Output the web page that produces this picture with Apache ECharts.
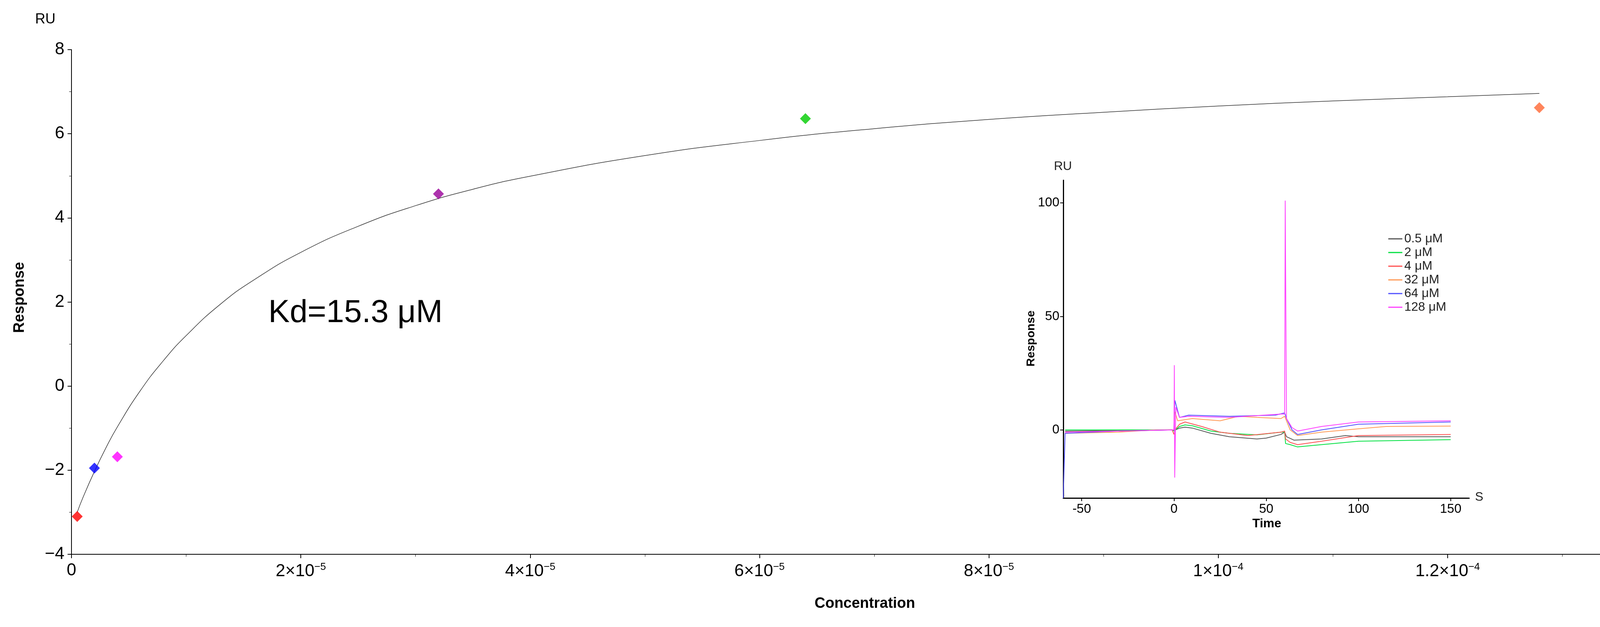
<!DOCTYPE html>
<html>
<head>
<meta charset="utf-8" />
<title>Kd fit</title>
<script src="https://cdn.jsdelivr.net/npm/echarts@6/dist/echarts.min.js"></script>
<style>
  html, body { margin: 0; padding: 0; background: #fff; }
  #chart { width: 4424px; height: 1604px; }
</style>
</head>
<body>
<div id="chart"></div>
<script>
// main plot: concentration (M) vs response (RU)
var pointConc = [0.5e-6, 2e-6, 4e-6, 32e-6, 64e-6, 128e-6];
var pointResp = [-3.1, -1.95, -1.68, 4.57, 6.36, 6.62];
var pointColors = ['#ff0000', '#0000ff', '#ff00ff', '#990099', '#00cc00', '#ff6633'];

// fitted curve (uM, RU)
var fitConcUM = [0.5, 1, 2, 3, 4, 6, 8, 10, 13, 16, 20, 25, 30, 35, 40, 50, 60, 70, 80, 90, 100, 110, 120, 128];
var fitResp = [-3.0, -2.65, -2.03, -1.47, -0.97, -0.11, 0.6, 1.2, 1.95, 2.54, 3.18, 3.8, 4.29, 4.68, 4.99, 5.48, 5.84, 6.12, 6.34, 6.51, 6.66, 6.78, 6.88, 6.96];

var xTickLabels = ['0', '2×10{s|−5}', '4×10{s|−5}', '6×10{s|−5}', '8×10{s|−5}', '1×10{s|−4}', '1.2×10{s|−4}', '1.4×10{s|−4}'];

// inset sensorgram: time (s) and response per concentration
var insetNames = ['0.5 μM', '2 μM', '4 μM', '32 μM', '64 μM', '128 μM'];
var insetColors = ['#555555', '#00e040', '#ff5050', '#ff9955', '#5050ff', '#ff40ff'];
var t05 = [-59, -30, -1, 0, 3, 6, 10, 20, 30, 45, 50, 58, 60, 61, 65, 80, 93, 100, 120, 150];
var y05 = [-0.5, -0.3, 0, -0.3, 0.8, 1.2, 0.8, -1.5, -3, -4, -3.6, -2, -1, -3, -4.5, -4, -2.5, -3, -3, -3];
var t2 = [-59, -30, -1, 0, 3, 6, 10, 20, 30, 45, 58, 60, 60.5, 63, 67, 80, 100, 150];
var y2 = [0, 0, 0, -0.5, 1.5, 2.2, 1.8, -0.5, -1.5, -2.2, -1, -1, -6, -6.5, -7.5, -6.5, -5, -4.3];
var t4 = [-59, -30, -1, 0, 0.5, 3, 6, 15, 25, 40, 58, 60, 60.5, 63, 67, 80, 100, 150];
var y4 = [-1, -0.5, 0, -2, 0, 2.5, 3.5, 1.5, -1, -2.5, -1, -0.5, -4, -5.5, -6.5, -5, -2.5, -2];
var t32 = [-59, -30, -10, 0, 0.5, 2, 10, 25, 35, 45, 58, 60, 63, 67, 80, 100, 115, 150];
var y32 = [-1.5, -1, 0, 0, 8, 4, 5, 4, 6, 5.5, 5, 6, 0, -2.5, -1, 0.5, 1.5, 1.7];
var t64 = [-60, -59, -30, 0, 0.5, 3, 8, 30, 55, 60, 61, 64, 67, 80, 100, 150];
var y64 = [-30, -1.5, -0.5, 0, 13, 5.5, 6.5, 6, 6.5, 7.5, 5, 0, -2, 0, 2.5, 3.5];
var t128 = [-59, -30, -1, 0, 0.2, 0.4, 1, 3, 8, 30, 58, 60, 60.3, 61, 64, 67, 80, 100, 150];
var y128 = [-1, -0.5, 0, 0, 28.5, -21, 10, 5.5, 6, 5.5, 7, 7, 101, 5, 1, -0.5, 1.5, 3.5, 4];
var insetT = [t05, t2, t4, t32, t64, t128];
var insetY = [y05, y2, y4, y32, y64, y128];

function zip(a, b) {
  return a.map(function (v, i) { return [v, b[i]]; });
}

var chart = echarts.init(document.getElementById('chart'));

var series = [];
series.push({
  type: 'line', xAxisIndex: 0, yAxisIndex: 0, smooth: true, symbol: 'none',
  lineStyle: { color: '#333', width: 1.5 },
  data: fitConcUM.map(function (c, i) { return [c * 1e-6, fitResp[i]]; }),
  z: 2
});
series.push({
  type: 'scatter', xAxisIndex: 0, yAxisIndex: 0, symbol: 'diamond', symbolSize: 28,
  data: pointConc.map(function (c, i) {
    return { value: [c, pointResp[i]], itemStyle: { color: pointColors[i] } };
  }),
  z: 3
});
for (var k = 0; k < insetNames.length; k++) {
  series.push({
    name: insetNames[k], type: 'line', xAxisIndex: 1, yAxisIndex: 1,
    symbol: 'none', lineStyle: { color: insetColors[k], width: 2 },
    itemStyle: { color: insetColors[k] },
    data: zip(insetT[k], insetY[k])
  });
}

var option = {
  animation: false,
  backgroundColor: '#fff',
  legend: {
    data: insetNames, orient: 'vertical', left: 3549, top: 590, itemGap: 3,
    itemWidth: 36, itemHeight: 3, icon: 'rect',
    textStyle: { fontSize: 32, color: '#222', fontFamily: 'Liberation Sans, Arial' }
  },
  grid: [
    { left: 183, top: 127, width: 4110, height: 1291 },
    { left: 2722, top: 461, width: 1039, height: 813 }
  ],
  xAxis: [
    {
      gridIndex: 0, type: 'value', min: 0, max: 1.4e-4, interval: 2e-5,
      splitLine: { show: false },
      axisLine: { onZero: false, lineStyle: { color: '#000', width: 2 } },
      axisTick: { length: 10, lineStyle: { color: '#000', width: 2 } },
      minorTick: { show: true, splitNumber: 2, length: 6, lineStyle: { color: '#000' } },
      axisLabel: {
        fontSize: 44, margin: 20, color: '#000', fontFamily: 'Liberation Sans, Arial',
        formatter: function (v) { return xTickLabels[Math.round(v / 2e-5)]; },
        rich: { s: { fontSize: 26, verticalAlign: 'top', padding: [0, 0, 22, 0] } }
      }
    },
    {
      gridIndex: 1, type: 'value', min: -60, max: 160,
      splitLine: { show: false },
      axisLine: { onZero: false, lineStyle: { color: '#000', width: 3 } },
      axisTick: { length: 8, customValues: [-50, 0, 50, 100, 150], lineStyle: { color: '#000', width: 2 } },
      axisLabel: {
        fontSize: 33, margin: 12, color: '#000', fontFamily: 'Liberation Sans, Arial',
        customValues: [-50, 0, 50, 100, 150]
      }
    }
  ],
  yAxis: [
    {
      gridIndex: 0, type: 'value', min: -4, max: 8, interval: 2,
      splitLine: { show: false },
      axisLine: { show: true, onZero: false, lineStyle: { color: '#000', width: 2 } },
      axisTick: { show: true, length: 10, lineStyle: { color: '#000', width: 2 } },
      minorTick: { show: true, splitNumber: 2, length: 6, lineStyle: { color: '#000' } },
      axisLabel: {
        fontSize: 44, margin: 18, color: '#000', fontFamily: 'Liberation Sans, Arial',
        formatter: function (v) { return v < 0 ? '−' + (-v) : String(v); }
      }
    },
    {
      gridIndex: 1, type: 'value', min: -30, max: 110,
      splitLine: { show: false },
      axisLine: { show: true, onZero: false, lineStyle: { color: '#000', width: 3 } },
      axisTick: { show: true, length: 8, customValues: [0, 50, 100], lineStyle: { color: '#000', width: 2 } },
      axisLabel: {
        fontSize: 33, margin: 10, color: '#000', fontFamily: 'Liberation Sans, Arial',
        customValues: [0, 50, 100]
      }
    }
  ],
  graphic: [
    { type: 'text', left: 90, top: 32, style: { text: 'RU', fontSize: 36, fill: '#000', fontFamily: 'Liberation Sans, Arial' } },
    { type: 'text', left: 4330, top: 1560, style: { text: 'M', fontSize: 36, fill: '#000', fontFamily: 'Liberation Sans, Arial' } },
    { type: 'text', x: 2214, y: 1545, style: { text: 'Concentration', fontSize: 38, fontWeight: 'bold', fill: '#000', align: 'center', verticalAlign: 'middle', fontFamily: 'Liberation Sans, Arial' } },
    { type: 'text', x: 51, y: 761, rotation: Math.PI / 2, style: { text: 'Response', fontSize: 38, fontWeight: 'bold', fill: '#000', align: 'center', verticalAlign: 'middle', fontFamily: 'Liberation Sans, Arial' } },
    { type: 'text', left: 687, top: 760, style: { text: 'Kd=15.3 μM', fontSize: 82, fill: '#000', fontFamily: 'Liberation Sans, Arial' } },
    { type: 'text', left: 2698, top: 410, style: { text: 'RU', fontSize: 32, fill: '#222', fontFamily: 'Liberation Sans, Arial' } },
    { type: 'text', left: 3776, top: 1256, style: { text: 'S', fontSize: 32, fill: '#222', fontFamily: 'Liberation Sans, Arial' } },
    { type: 'text', x: 3243, y: 1340, style: { text: 'Time', fontSize: 32, fontWeight: 'bold', fill: '#000', align: 'center', verticalAlign: 'middle', fontFamily: 'Liberation Sans, Arial' } },
    { type: 'text', x: 2640, y: 866, rotation: Math.PI / 2, style: { text: 'Response', fontSize: 30, fontWeight: 'bold', fill: '#000', align: 'center', verticalAlign: 'middle', fontFamily: 'Liberation Sans, Arial' } }
  ],
  series: series
};

chart.setOption(option);
</script>
</body>
</html>
